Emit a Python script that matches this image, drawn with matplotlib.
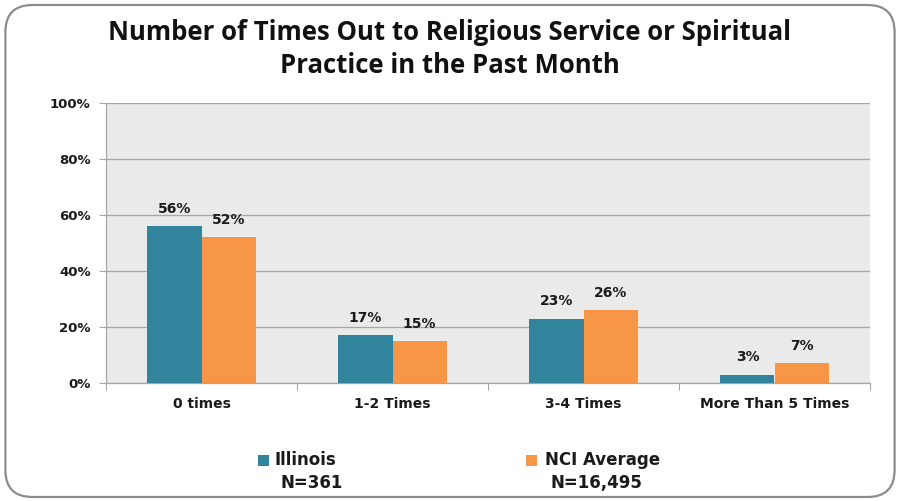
import matplotlib
matplotlib.use("Agg")
import matplotlib.pyplot as plt
from matplotlib.patches import FancyBboxPatch, Rectangle
import numpy as np

categories = ["0 times", "1-2 Times", "3-4 Times", "More Than 5 Times"]
illinois = [56, 17, 23, 3]
nci_average = [52, 15, 26, 7]
series_names = ["Illinois", "NCI Average"]
series_n = ["N=361", "N=16,495"]
yticks = [0, 20, 40, 60, 80, 100]

teal = "#31849B"
orange = "#F79646"

fig = plt.figure(figsize=(9, 5.01), dpi=100)
fig.patch.set_facecolor("white")

# rounded outer frame
frame = FancyBboxPatch((0.006, 0.008), 0.988, 0.982,
                       boxstyle="round,pad=0,rounding_size=0.03",
                       transform=fig.transFigure, facecolor="white",
                       edgecolor="#8C8C8C", linewidth=1.6, zorder=0,
                       mutation_aspect=900 / 501)
fig.add_artist(frame)

ax = fig.add_axes([106 / 900, 1 - 383 / 501, 764 / 900, 280 / 501])
ax.set_facecolor("#EAEAEA")

x = np.arange(len(categories))
w = 0.283
b1 = ax.bar(x - w / 2, illinois, w, color=teal, zorder=3)
b2 = ax.bar(x + w / 2, nci_average, w, color=orange, zorder=3)

for bars, vals in ((b1, illinois), (b2, nci_average)):
    for r, v in zip(bars, vals):
        ax.text(r.get_x() + r.get_width() / 2, v + 6.2, f"{v}%",
                ha="center", va="center", fontsize=10, fontweight="bold",
                color="#1a1a1a", zorder=4)

ax.set_xlim(-0.5, len(categories) - 0.5)
ax.set_ylim(0, 100)
ax.set_yticks(yticks)
ax.set_yticklabels([f"{t}%" for t in yticks], fontsize=9.5,
                   fontweight="bold", color="#1a1a1a")
ax.yaxis.grid(True, color="#A6A6A6", linewidth=0.9, zorder=1)
ax.set_axisbelow(True)

ax.set_xticks(np.arange(-0.5, len(categories), 1.0))
ax.set_xticklabels([])
ax.set_xticks(x, minor=True)
ax.set_xticklabels(categories, minor=True, fontsize=10, fontweight="bold",
                   color="#1a1a1a")
ax.tick_params(axis="x", which="minor", length=0, pad=10)
ax.tick_params(axis="x", which="major", length=5, color="#A6A6A6")
ax.tick_params(axis="y", length=5, color="#A6A6A6", pad=6)

for s in ("top", "right"):
    ax.spines[s].set_visible(False)
for s in ("left", "bottom"):
    ax.spines[s].set_color("#A6A6A6")
    ax.spines[s].set_linewidth(0.9)

fig.text(0.5, 1 - 49 / 501,
         "Number of Times Out to Religious Service or Spiritual\nPractice in the Past Month",
         ha="center", va="center", fontsize=18.5, fontweight="bold",
         family="Open Sans", linespacing=1.25, color="#111111")

# legend
legend_pos = [(258, 275, 280), (526, 545, 550)]
colors = [teal, orange]
for (sx, tx, nx), c, name, n in zip(legend_pos, colors, series_names, series_n):
    fig.add_artist(Rectangle((sx / 900, 1 - 466 / 501), 11 / 900, 11 / 501,
                             transform=fig.transFigure, facecolor=c,
                             edgecolor="none"))
    fig.text(tx / 900, 1 - 460 / 501, name, ha="left", va="center",
             fontsize=12, fontweight="bold", color="#1a1a1a")
    fig.text(nx / 900, 1 - 483 / 501, n, ha="left", va="center",
             fontsize=12, fontweight="bold", color="#1a1a1a")

fig.savefig("out.png", dpi=100)
